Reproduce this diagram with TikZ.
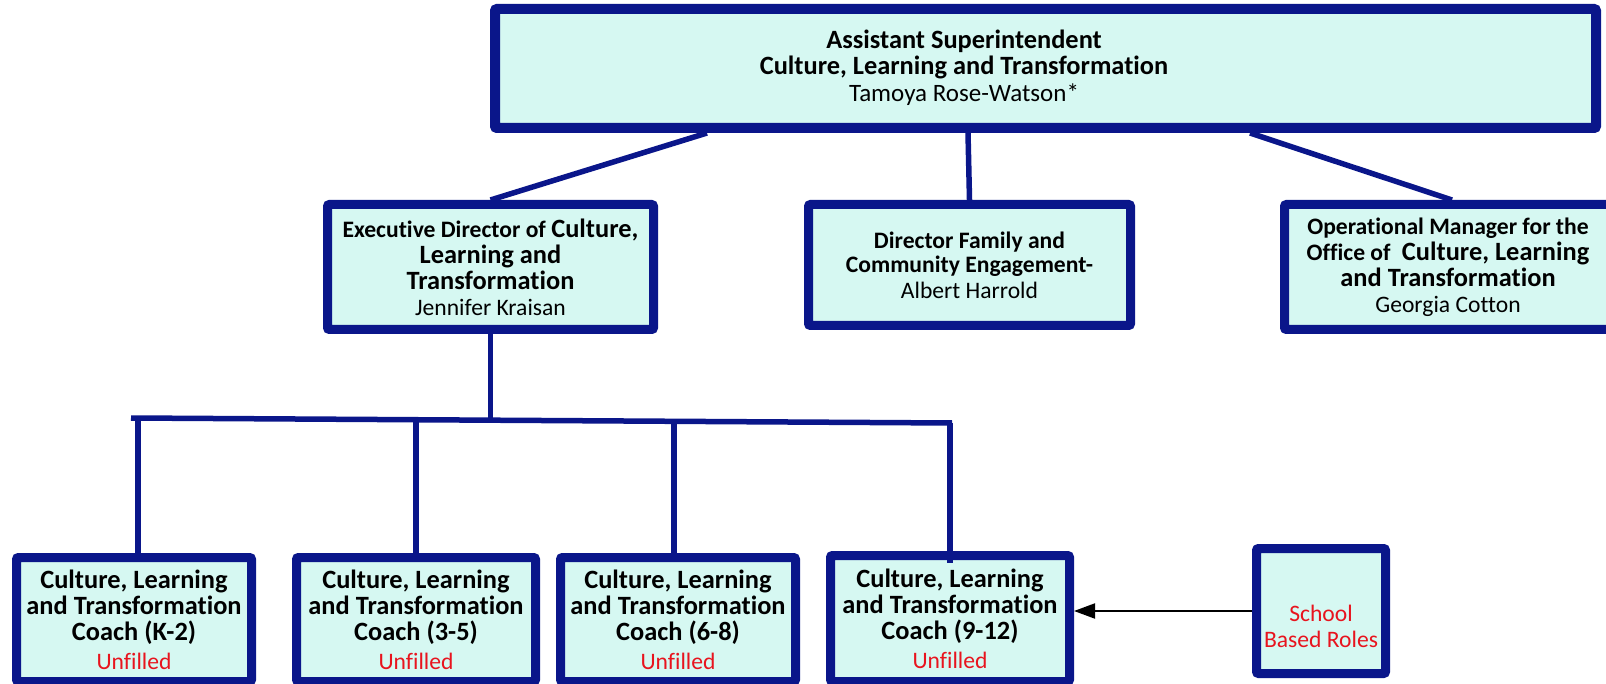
\documentclass[tikz,border=0pt]{standalone}
\usepackage{fontspec}
\setmainfont{Carlito}[Ligatures=NoCommon]
\usetikzlibrary{arrows.meta,calc}
\definecolor{navy}{RGB}{10,22,138}
\definecolor{boxfill}{RGB}{214,248,242}
\definecolor{redtxt}{RGB}{232,20,30}
\newcommand\fLg{\fontsize{26.4}{26}\selectfont}
\newcommand\fSm{\fontsize{23.6}{26}\selectfont}
\newcommand\fNm{\fontsize{25}{26}\selectfont}
\begin{document}
\begin{tikzpicture}[x=1pt,y=-1pt,
  box/.style={draw=navy, fill=boxfill, line width=9pt, rounded corners=2pt,
    inner sep=0pt, align=center, font=\fLg},
  txt/.style={inner sep=0pt, align=center, font=\fLg},
  conn/.style={draw=navy, line width=5.5pt}]
\useasboundingbox (0,0) rectangle (1606,684);
\clip (0,0) rectangle (1606,684);
% top box
\node[box, line width=10pt, minimum width=1101pt, minimum height=119pt] (top) at (1045.5,68.5) {};
\node[txt] (toptxt) at (964,68) {\textbf{Assistant Superintendent}\\ \textbf{Culture, Learning and Transformation}\\[1pt] {\fNm Tamoya Rose-Watson*}};
% second row
\node[box, minimum width=326pt, minimum height=125pt] (exec) at (490.5,267)
  {\textbf{{\fSm Executive Director of }Culture,}\\ \textbf{Learning and}\\ \textbf{Transformation}\\ {\fSm Jennifer Kraisan}};
\node[box, minimum width=322pt, minimum height=121pt] (mid) at (969.5,265)
  {\fSm\textbf{Director Family and}\\[-2pt] \fSm\textbf{Community Engagement-}\\ \fSm Albert Harrold};
\node[box, minimum width=327pt, minimum height=125pt] (ops) at (1448,267)
  {\textbf{\fSm Operational Manager for the}\\ \textbf{{\fSm Office of }\ Culture, Learning}\\ \textbf{and Transformation}\\ {\fSm Georgia Cotton}};
% coaches
\node[box, minimum width=235pt, minimum height=124pt] (c1) at (134,619.5)
  {\textbf{Culture, Learning}\\ \textbf{and Transformation}\\ \textbf{Coach (K-2)}\\[3pt] {\fSm\color{redtxt}Unfilled}};
\node[box, minimum width=239pt, minimum height=124pt] (c2) at (416,619.5)
  {\textbf{Culture, Learning}\\ \textbf{and Transformation}\\ \textbf{Coach (3-5)}\\[3pt] {\fSm\color{redtxt}Unfilled}};
\node[box, minimum width=235pt, minimum height=124pt] (c3) at (678,619.5)
  {\textbf{Culture, Learning}\\ \textbf{and Transformation}\\ \textbf{Coach (6-8)}\\[3pt] {\fSm\color{redtxt}Unfilled}};
\node[box, minimum width=239pt, minimum height=126pt] (c4) at (950,618.5)
  {\textbf{Culture, Learning}\\ \textbf{and Transformation}\\ \textbf{Coach (9-12)}\\[3pt] {\fSm\color{redtxt}Unfilled}};
\node[box, minimum width=129pt, minimum height=125pt] (sch) at (1321,611) {};
\node[txt, font=\fSm, text=redtxt] (schtxt) at (1321,626) {School\\ Based Roles};
% connectors from top
\draw[conn] ([xshift=217pt]top.south west) -- (exec.north);
\draw[conn] ([xshift=478pt]top.south west) -- (mid.north);
\draw[conn] ([xshift=760pt]top.south west) -- ([xshift=4pt]ops.north);
% bus
\coordinate (bL) at (131,418);
\coordinate (bR) at (952,423);
\draw[conn] (exec.south) -- (exec.south |- 0,419);
\draw[conn] (bL) -- (bR);
\draw[conn] ($(c1.north |- bL)+(4,0)$) -- ([xshift=4pt]c1.north);
\draw[conn] (c2.north |- 0,420) -- (c2.north);
\draw[conn] ($(c3.north |- 0,421)+(-4,0)$) -- ([xshift=-4pt]c3.north);
\draw[conn] (c4.north |- bR) -- ([yshift=-12pt]c4.north);
% arrow
\draw[line width=2pt, black, -{Triangle[length=21pt,width=15pt]}] (sch.west) -- (sch.west -| c4.east);
\end{tikzpicture}
\end{document}
